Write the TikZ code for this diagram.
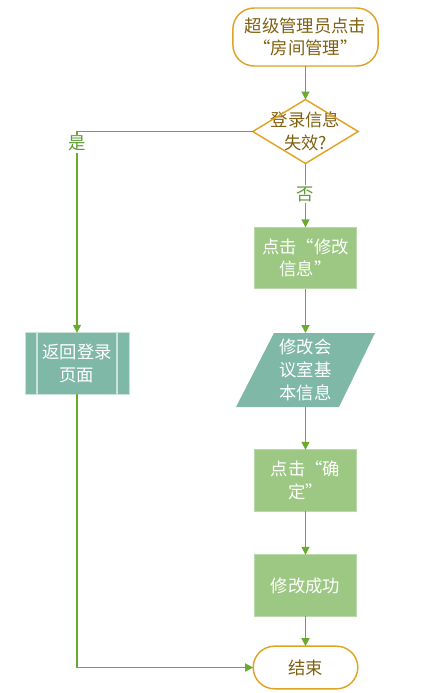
\documentclass[tikz,border=0pt]{standalone}
\usepackage{fontspec}
\setmainfont{Noto Sans CJK SC}
\usepackage{tikz}
\usetikzlibrary{positioning, arrows.meta, shapes.geometric}

\definecolor{flowline}{HTML}{6AAA2F}
\definecolor{termline}{HTML}{E0A425}
\definecolor{termtext}{HTML}{7F6010}
\definecolor{stepfill}{HTML}{9DC884}
\definecolor{tealfill}{HTML}{80B8A8}
\definecolor{labeltext}{HTML}{5E9A35}

\begin{document}
\begin{tikzpicture}[
    x=0.75pt, y=-0.75pt,
    >={Triangle[width=6pt,length=6pt]},
    every node/.style={
        font=\fontsize{13}{17}\selectfont,
        outer sep=0pt,
        align=center,
    },
    terminal/.style={
        draw=termline,
        line width=1.1pt,
        rounded corners=16pt,
        text=termtext,
        fill=white,
    },
    stepbox/.style={
        fill=stepfill,
        draw=stepfill!70!white,
        line width=0.6pt,
        text=white,
        minimum width=77pt,
        minimum height=46pt,
        inner sep=2pt,
    },
    flow/.style={
        ->,
        draw=flowline,
        line width=1pt,
    },
    branch label/.style={
        text=labeltext,
        fill=white,
        inner sep=1pt,
    },
]
\useasboundingbox (0,0) rectangle (438,693);

% --- Start ---
\node[terminal, minimum width=109pt, minimum height=43.5pt] (start) at (305.5,37)
    {超级管理员点击\\“房间管理”};

% --- Decision (outline drawn from the node's anchors) ---
\node[text=termtext, inner sep=0pt, minimum width=79pt, minimum height=48pt]
    (check) at (305.5,131.5) {登录信息\\失效?};
\draw[termline, line width=1.1pt]
    (check.north) -- (check.east) -- (check.south) -- (check.west) -- cycle;

% --- Main branch ---
\node[stepbox] (edit) at (305.5,258) {点击“修改\\信息”};

\fill[tealfill] (274,333) -- (375,333) -- (339,407) -- (236,407) -- cycle;
\node[text=white, minimum height=55.5pt] (info) at (305.5,370)
    {修改会\\议室基\\本信息};

\node[stepbox] (confirm) at (305.5,480.5) {点击“确\\定”};
\node[stepbox] (done) at (305.5,585.5) {修改成功};

% --- End ---
\node[terminal, minimum width=78.5pt, minimum height=32pt] (finish) at (305.5,667.5)
    {结束};

% --- Left branch: predefined process ---
\node[fill=tealfill, draw=white!60!tealfill, line width=0.6pt, text=white,
    minimum width=78pt, minimum height=46pt] (back) at (77,363.5) {返回登录\\页面};
\draw[white!60!tealfill, line width=0.8pt] (37,333) -- (37,394);
\draw[white!60!tealfill, line width=0.8pt] (117,333) -- (117,394);

% --- Connectors ---
\draw[flow] (start) -- (check.north);
\draw[flow] (check.south) -- (edit) node[branch label, pos=0.48] (no) {否};
\draw[flow] (edit) -- (info);
\draw[flow] (info) -- (confirm);
\draw[flow] (confirm) -- (done);
\draw[flow] (done) -- (finish);
\draw[flow] (check.west) -| (back.north) node[branch label, pos=0.53] (yes) {是};
\draw[flow] (back.south) |- (finish.west);

\end{tikzpicture}
\end{document}
